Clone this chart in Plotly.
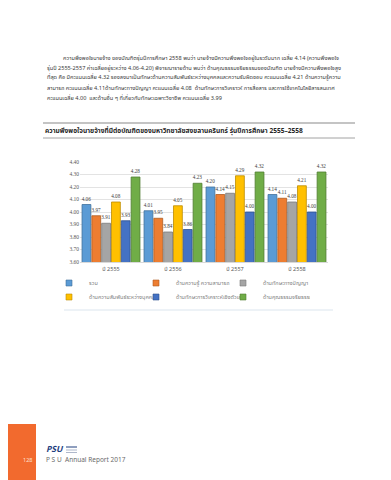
import plotly.graph_objects as go

# ---------------- data ----------------
years = ["ปี 2555", "ปี 2556", "ปี 2557", "ปี 2558"]
series_names = [
    "รวม",
    "ด้านความรู้ ความสามารถ",
    "ด้านทักษะทางปัญญา",
    "ด้านความสัมพันธ์ระหว่างบุคคล",
    "ด้านทักษะการวิเคราะห์เชิงตัวเลข",
    "ด้านคุณธรรมจริยธรรม",
]
total = [4.06, 4.01, 4.20, 4.14]
knowledge = [3.97, 3.95, 4.14, 4.11]
cognitive = [3.91, 3.84, 4.15, 4.08]
interpersonal = [4.08, 4.05, 4.29, 4.21]
numerical = [3.93, 3.86, 4.00, 4.00]
ethics = [4.28, 4.23, 4.32, 4.32]
series_values = [total, knowledge, cognitive, interpersonal, numerical, ethics]
y_ticks = [3.60, 3.70, 3.80, 3.90, 4.00, 4.10, 4.20, 4.30, 4.40]

colors = ["#5B9BD5", "#ED7D31", "#A5A5A5", "#FFC000", "#4472C4", "#70AD47"]
edge_colors = ["#41719C", "#AE5A21", "#7B7B7B", "#BC8C00", "#2F528F", "#507E32"]

page_title = "ความพึงพอใจนายจ้างที่มีต่อบัณฑิตของมหาวิทยาลัยสงขลานครินทร์ รุ่นปีการศึกษา 2555–2558"
paragraph = [
    "ความพึงพอใจนายจ้าง ของบัณฑิตรุ่นปีการศึกษา 2558 พบว่า นายจ้างมีความพึงพอใจอยู่ในระดับมาก เฉลี่ย 4.14 (ความพึงพอใจ",
    "รุ่นปี 2555-2557 ค่าเฉลี่ยอยู่ระหว่าง 4.06-4.20) พิจารณารายด้าน พบว่า ด้านคุณธรรมจริยธรรมของบัณฑิต นายจ้างมีความพึงพอใจสูง",
    "ที่สุด คือ มีคะแนนเฉลี่ย 4.32 รองลงมาเป็นทักษะด้านความสัมพันธ์ระหว่างบุคคลและความรับผิดชอบ คะแนนเฉลี่ย 4.21 ด้านความรู้ความ",
    "สามารถ คะแนนเฉลี่ย 4.11ด้านทักษะทางปัญญา คะแนนเฉลี่ย 4.08  ด้านทักษะการวิเคราะห์ การสื่อสาร และการใช้เทคโนโลยีสารสนเทศ",
    "คะแนนเฉลี่ย 4.00  และด้านอื่น ๆ ที่เกี่ยวกับทักษะเฉพาะวิชาชีพ คะแนนเฉลี่ย 3.99",
]

FONT = "Noto Sans Thai, Loma, Garuda, Noto Sans, sans-serif"
NUMFONT = "Liberation Serif, DejaVu Serif, serif"

# plot area in pixels
L, T, W, H = 72, 154, 248, 100
FW, FH = 391, 480


def px(x):
    return (x - L) / W


def py(y):
    return (T + H - y) / H


fig = go.Figure()

for i, (name, vals) in enumerate(zip(series_names, series_values)):
    fig.add_trace(go.Bar(
        x=years, y=vals, name=name,
        marker=dict(color=colors[i], line=dict(color=edge_colors[i], width=0.8)),
        text=[f"{v:.2f}" for v in vals],
        textposition="outside",
        textfont=dict(size=5.2, color="#404040", family=NUMFONT),
        constraintext="none",
        cliponaxis=False,
        showlegend=False,
    ))
    # legend entry (small square)
    fig.add_trace(go.Scatter(
        x=[None], y=[None], mode="markers", name=name,
        marker=dict(symbol="square", size=6, color=colors[i],
                    line=dict(color=edge_colors[i], width=0.6)),
        legend="legend" if i < 3 else "legend2",
        hoverinfo="skip",
    ))

legend_common = dict(
    orientation="h", xref="paper", yref="paper", xanchor="left", yanchor="middle",
    x=px(41), entrywidth=42, entrywidthmode="pixels",
    font=dict(size=5.5, color="#7f7f7f", family=FONT),
    bgcolor="rgba(0,0,0,0)", itemsizing="trace",
)

fig.update_layout(
    width=FW, height=FH,
    margin=dict(l=L, r=FW - L - W, t=T, b=FH - T - H, autoexpand=False),
    paper_bgcolor="white", plot_bgcolor="white",
    barmode="group", bargap=0.05, bargroupgap=0.1,
    font=dict(family=FONT),
    legend=dict(**legend_common, y=py(275)),
    legend2=dict(**legend_common, y=py(289)),
    xaxis=dict(
        type="category", showgrid=False, showline=True, linecolor="#d9d9d9", linewidth=0.6,
        ticks="", tickfont=dict(size=5.5, color="#595959", family=FONT), ticklabelstandoff=2,
    ),
    yaxis=dict(
        range=[3.6, 4.4], tickvals=y_ticks, tickformat=".2f",
        showgrid=True, gridcolor="#e3e3e3", gridwidth=0.6, zeroline=False,
        showline=False, ticks="",
        tickfont=dict(size=5.5, color="#595959", family=NUMFONT),
    ),
)

annotations = []
# paragraph
para_y = [50, 60, 70, 80, 90]
for k, (line, yy) in enumerate(zip(paragraph, para_y)):
    annotations.append(dict(
        xref="paper", yref="paper", x=px(53 if k == 0 else 37), y=py(yy),
        xanchor="left", yanchor="middle", text=line, showarrow=False,
        font=dict(size=5.6, color="#3a3a3a", family=FONT),
    ))
# chart header
annotations.append(dict(
    xref="paper", yref="paper", x=px(35), y=py(123), xanchor="left", yanchor="middle",
    text="<b>" + page_title + "</b>", showarrow=False,
    font=dict(size=6.6, color="#262626", family=FONT),
))
# footer
annotations.append(dict(
    xref="paper", yref="paper", x=px(19), y=py(452), xanchor="center", yanchor="middle",
    text="128", showarrow=False, font=dict(size=5.5, color="#fde0d0", family=FONT),
))
annotations.append(dict(
    xref="paper", yref="paper", x=px(36), y=py(441), xanchor="left", yanchor="middle",
    text="<b><i>PSU</i></b>", showarrow=False, font=dict(size=8.5, color="#1f3f7f", family=FONT),
))
annotations.append(dict(
    xref="paper", yref="paper", x=px(36), y=py(452), xanchor="left", yanchor="middle",
    text="P S U  Annual Report 2017", showarrow=False,
    font=dict(size=6.5, color="#6b6b6b", family=FONT),
))

shapes = [
    dict(type="line", xref="paper", yref="paper", x0=px(35), x1=px(347), y0=py(115), y1=py(115),
         line=dict(color="#c4c4c4", width=2.2)),
    dict(type="line", xref="paper", yref="paper", x0=px(35), x1=px(347), y0=py(130), y1=py(130),
         line=dict(color="#8a8a8a", width=0.8)),
    dict(type="line", xref="paper", yref="paper", x0=px(56), x1=px(325), y0=py(302), y1=py(302),
         line=dict(color="#dbe5ee", width=1)),
    dict(type="rect", xref="paper", yref="paper", x0=px(0), x1=px(28), y0=py(416), y1=py(480),
         fillcolor="#f26a2e", line=dict(width=0), layer="below"),
    # logo decoration strokes
    dict(type="line", xref="paper", yref="paper", x0=px(58), x1=px(69), y0=py(439), y1=py(439),
         line=dict(color="#1f3f7f", width=1)),
    dict(type="line", xref="paper", yref="paper", x0=px(58), x1=px(69), y0=py(442), y1=py(442),
         line=dict(color="#9aa6be", width=0.8)),
    dict(type="line", xref="paper", yref="paper", x0=px(58), x1=px(69), y0=py(444.5), y1=py(444.5),
         line=dict(color="#9aa6be", width=0.8)),
]

fig.update_layout(annotations=annotations, shapes=shapes)

fig.write_html("out.html")
